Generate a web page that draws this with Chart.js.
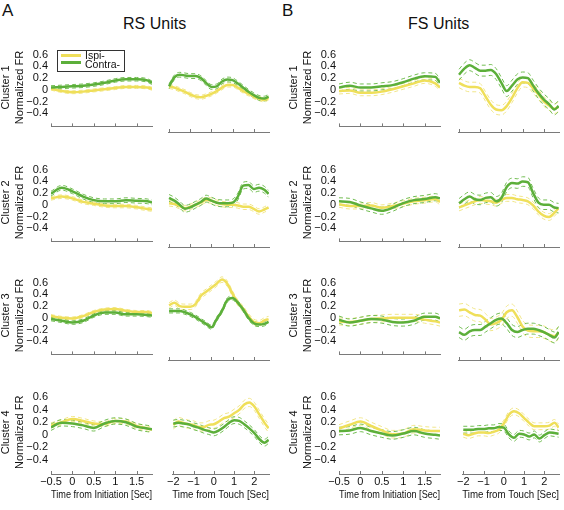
<!DOCTYPE html>
<html>
<head>
<meta charset="utf-8">
<script src="https://cdn.jsdelivr.net/npm/chart.js@4.4.1/dist/chart.umd.min.js"></script>
<style>
  body { margin: 0; background: #fff; }
  #fig { position: relative; width: 564px; height: 510px; overflow: hidden;
         font-family: "Liberation Sans", Arial, sans-serif; color: #111; }
  #fig canvas { position: absolute; }
  .lbl { position: absolute; white-space: nowrap; }
</style>
</head>
<body>
<div id="fig">
  <div class="lbl" style="left:2px;top:1px;font-size:17px">A</div>
  <div class="lbl" style="left:123px;top:15px;font-size:16px">RS Units</div>
  <div class="lbl" style="left:282px;top:1px;font-size:17px">B</div>
  <div class="lbl" style="left:408px;top:15px;font-size:16px">FS Units</div>
</div>
<script>
// time axes
const initX = [-0.5, -0.25, 0, 0.25, 0.5, 0.75, 1, 1.25, 1.5, 1.75, 1.86];
const touchX = [-2, -1.75, -1.5, -1.25, -1, -0.75, -0.5, -0.25, 0, 0.25, 0.5, 0.75, 1, 1.25, 1.5, 1.75, 2, 2.25, 2.5, 2.7];
const initTicks = [-0.5, 0, 0.5, 1, 1.5];
const touchTicks = [-2, -1, 0, 1, 2];
const yTicks = [-0.4, -0.2, 0, 0.2, 0.4, 0.6];

// RS units, mean normalized FR
const rs1InitIpsi = [0.02, -0.02, -0.04, -0.03, -0.01, 0.01, 0.03, 0.05, 0.05, 0.04, 0.02];
const rs1InitContra = [0.04, 0.05, 0.06, 0.07, 0.09, 0.12, 0.16, 0.18, 0.18, 0.16, 0.12];
const rs1TouchIpsi = [0.05, 0.03, 0.0, -0.03, -0.07, -0.1, -0.11, -0.09, -0.06, -0.02, 0.03, 0.07, 0.07, 0.03, -0.02, -0.06, -0.1, -0.13, -0.15, -0.12];
const rs1TouchContra = [0.05, 0.18, 0.22, 0.21, 0.2, 0.2, 0.17, 0.1, 0.04, 0.05, 0.12, 0.15, 0.14, 0.09, 0.03, -0.03, -0.08, -0.12, -0.13, -0.1];

const rs2InitIpsi = [0.11, 0.14, 0.11, 0.05, 0.02, -0.01, -0.02, -0.02, -0.04, -0.07, -0.08];
const rs2InitContra = [0.19, 0.29, 0.23, 0.14, 0.08, 0.06, 0.06, 0.08, 0.07, 0.06, 0.04];
const rs2TouchIpsi = [0.02, 0.01, -0.02, -0.05, -0.03, 0.0, 0.03, 0.07, 0.06, 0.03, 0.01, 0.0, 0.0, -0.01, -0.03, -0.03, -0.06, -0.1, -0.07, -0.04];
const rs2TouchContra = [0.1, 0.06, 0.0, -0.06, -0.04, 0.0, 0.04, 0.09, 0.06, 0.03, 0.02, 0.02, 0.03, 0.12, 0.28, 0.29, 0.23, 0.25, 0.22, 0.16];

const rs3InitIpsi = [0.03, 0.0, -0.01, 0.03, 0.1, 0.14, 0.15, 0.12, 0.1, 0.1, 0.08];
const rs3InitContra = [-0.02, -0.05, -0.08, -0.05, 0.04, 0.09, 0.09, 0.06, 0.06, 0.05, 0.04];
const rs3TouchIpsi = [0.18, 0.22, 0.17, 0.16, 0.16, 0.2, 0.32, 0.38, 0.44, 0.5, 0.56, 0.5, 0.35, 0.22, 0.13, 0.02, -0.06, -0.08, -0.04, -0.02];
const rs3TouchContra = [0.1, 0.1, 0.1, 0.08, 0.05, 0.01, -0.04, -0.09, -0.14, -0.02, 0.1, 0.26, 0.29, 0.22, 0.12, 0.0, -0.08, -0.1, -0.09, -0.06];

const rs4InitIpsi = [0.15, 0.2, 0.25, 0.22, 0.18, 0.17, 0.22, 0.21, 0.14, 0.1, 0.08];
const rs4InitContra = [0.12, 0.19, 0.18, 0.15, 0.11, 0.18, 0.22, 0.2, 0.13, 0.1, 0.09];
const rs4TouchIpsi = [0.1, 0.15, 0.13, 0.11, 0.1, 0.07, 0.07, 0.1, 0.11, 0.15, 0.2, 0.22, 0.27, 0.32, 0.4, 0.43, 0.37, 0.25, 0.13, 0.05];
const rs4TouchContra = [0.12, 0.13, 0.12, 0.11, 0.08, 0.06, 0.03, 0.01, -0.01, 0.02, 0.07, 0.13, 0.17, 0.16, 0.11, 0.05, -0.02, -0.11, -0.16, -0.12];

// FS units
const fs1InitIpsi = [-0.02, -0.01, -0.05, -0.05, -0.03, 0.01, 0.06, 0.11, 0.16, 0.11, 0.04];
const fs1InitContra = [0.04, 0.07, 0.04, 0.04, 0.06, 0.08, 0.13, 0.19, 0.23, 0.22, 0.12];
const fs1TouchIpsi = [0.1, 0.06, 0.04, 0.04, 0.02, -0.1, -0.22, -0.29, -0.3, -0.24, -0.12, 0.02, 0.11, 0.1, 0.02, -0.07, -0.17, -0.23, -0.28, -0.25];
const fs1TouchContra = [0.22, 0.31, 0.36, 0.32, 0.28, 0.28, 0.29, 0.23, 0.1, -0.02, 0.06, 0.15, 0.18, 0.17, 0.06, -0.05, -0.14, -0.21, -0.29, -0.24];

const fs2InitIpsi = [0.01, -0.02, -0.02, -0.01, -0.05, -0.02, 0.02, 0.06, 0.08, 0.1, 0.05];
const fs2InitContra = [0.06, 0.05, -0.01, -0.06, -0.1, -0.05, 0.03, 0.08, 0.1, 0.13, 0.11];
const fs2TouchIpsi = [-0.04, -0.01, 0.02, 0.05, 0.07, 0.06, 0.05, 0.03, 0.07, 0.1, 0.1, 0.08, 0.07, 0.05, -0.01, -0.1, -0.16, -0.18, -0.12, -0.05];
const fs2TouchContra = [0.02, 0.08, 0.12, 0.08, 0.07, 0.1, 0.11, 0.05, 0.1, 0.26, 0.32, 0.31, 0.34, 0.33, 0.17, 0.03, 0.0, 0.0, -0.04, -0.05];

const fs3InitIpsi = [-0.06, -0.07, -0.05, -0.02, -0.01, 0.0, 0.0, 0.0, -0.03, -0.06, -0.08];
const fs3InitContra = [-0.03, -0.08, -0.05, -0.02, -0.03, -0.07, -0.08, -0.05, 0.02, 0.02, -0.01];
const fs3TouchIpsi = [0.11, 0.12, 0.08, 0.04, 0.03, -0.03, -0.1, -0.08, -0.03, 0.08, 0.11, 0.01, -0.13, -0.19, -0.2, -0.2, -0.21, -0.25, -0.27, -0.22];
const fs3TouchContra = [-0.21, -0.25, -0.2, -0.18, -0.18, -0.13, -0.08, -0.03, -0.01, -0.08, -0.18, -0.21, -0.18, -0.16, -0.16, -0.18, -0.21, -0.25, -0.29, -0.21];

const fs4InitIpsi = [0.1, 0.16, 0.21, 0.14, 0.07, 0.01, 0.02, 0.09, 0.07, 0.06, 0.06];
const fs4InitContra = [0.06, 0.07, 0.11, 0.06, 0.02, -0.01, 0.02, 0.06, 0.02, 0.0, -0.01];
const fs4TouchIpsi = [-0.03, -0.05, -0.03, -0.01, -0.01, -0.02, 0.0, 0.03, 0.12, 0.25, 0.3, 0.27, 0.2, 0.13, 0.08, 0.08, 0.08, 0.09, 0.13, 0.06];
const fs4TouchContra = [0.03, 0.03, 0.03, 0.04, 0.04, 0.05, 0.05, 0.07, 0.06, -0.04, -0.09, -0.03, -0.04, -0.07, -0.04, -0.1, -0.05, -0.01, -0.02, -0.03];

// error band half-widths [ipsi, contra] per cluster
const rsInitErr = [[0.025, 0.03], [0.03, 0.04], [0.025, 0.03], [0.04, 0.05]];
const rsTouchErr = [[0.03, 0.035], [0.04, 0.05], [0.04, 0.03], [0.06, 0.05]];
const fsInitErr = [[0.05, 0.06], [0.05, 0.06], [0.06, 0.06], [0.06, 0.06]];
const fsTouchErr = [[0.07, 0.08], [0.05, 0.07], [0.09, 0.08], [0.05, 0.05]];

const YEL = '#efdf5a', YEL_D = '#f1e68a';
const GRN = '#5caf3a', GRN_D = '#72bd52';
const FONT = '"Liberation Sans", Arial, sans-serif';

const fig = document.getElementById('fig');
const rowTop = [42, 157, 270, 384];
const plotH = 90, plotW = 101;

const groups = [
  { cols: [51, 168], err: [rsInitErr, rsTouchErr],
    means: [[rs1InitIpsi, rs1InitContra, rs1TouchIpsi, rs1TouchContra],
            [rs2InitIpsi, rs2InitContra, rs2TouchIpsi, rs2TouchContra],
            [rs3InitIpsi, rs3InitContra, rs3TouchIpsi, rs3TouchContra],
            [rs4InitIpsi, rs4InitContra, rs4TouchIpsi, rs4TouchContra]] },
  { cols: [339, 458], err: [fsInitErr, fsTouchErr],
    means: [[fs1InitIpsi, fs1InitContra, fs1TouchIpsi, fs1TouchContra],
            [fs2InitIpsi, fs2InitContra, fs2TouchIpsi, fs2TouchContra],
            [fs3InitIpsi, fs3InitContra, fs3TouchIpsi, fs3TouchContra],
            [fs4InitIpsi, fs4InitContra, fs4TouchIpsi, fs4TouchContra]] }
];

const fmt = v => (v < 0 ? '\u2212' : '') + Math.abs(v);

// little tick marks pointing into the plot, like matlab
const innerTicks = {
  id: 'innerTicks',
  afterDraw(c) {
    const s = c.scales.x, a = c.chartArea, ctx = c.ctx;
    ctx.save();
    ctx.strokeStyle = '#7a7a7a';
    ctx.lineWidth = 1;
    s.ticks.forEach(t => {
      const px = Math.round(s.getPixelForValue(t.value)) + 0.5;
      ctx.beginPath();
      ctx.moveTo(px, a.bottom);
      ctx.lineTo(px, a.bottom - 3);
      ctx.stroke();
    });
    ctx.restore();
  }
};

function buildSets(xs, ipsi, contra, err) {
  const pts = (arr, d) => arr.map((v, i) => ({ x: xs[i], y: v + d }));
  const mean = (arr, col) => ({ data: pts(arr, 0), borderColor: col, borderWidth: 2.5 });
  const dash = (arr, d, col) => ({ data: pts(arr, d), borderColor: col, borderWidth: 1, borderDash: [4, 3] });
  // first dataset is painted last
  return [
    mean(contra, GRN), mean(ipsi, YEL),
    dash(contra, err[1], GRN_D), dash(contra, -err[1], GRN_D),
    dash(ipsi, err[0], YEL_D), dash(ipsi, -err[0], YEL_D)
  ];
}

function makePanel(left, top, cluster, isTouch, lastRow, ipsi, contra, err) {
  const yW = isTouch ? 2 : 52;
  const xH = lastRow ? 27 : 4;
  const w = yW + plotW + 4, h = 3 + plotH + xH;
  const cv = document.createElement('canvas');
  cv.width = w; cv.height = h;
  cv.style.left = (left - yW) + 'px';
  cv.style.top = (top - 3) + 'px';
  cv.style.width = w + 'px'; cv.style.height = h + 'px';
  fig.appendChild(cv);
  const xs = isTouch ? touchX : initX;
  const ticks = isTouch ? touchTicks : initTicks;
  new Chart(cv, {
    type: 'line',
    data: { datasets: buildSets(xs, ipsi, contra, err) },
    options: {
      responsive: false, animation: false,
      layout: { padding: { top: 3, right: 4, left: 0, bottom: 0 } },
      plugins: { legend: { display: false }, tooltip: { enabled: false } },
      elements: { point: { radius: 0 }, line: { cubicInterpolationMode: 'monotone' } },
      scales: {
        x: {
          type: 'linear',
          min: isTouch ? -2.05 : -0.5, max: isTouch ? 2.72 : 1.86,
          afterBuildTicks: s => { s.ticks = ticks.map(v => ({ value: v })); },
          afterFit: s => { s.height = xH; },
          grid: { display: false, drawTicks: false },
          border: { display: true, color: '#7a7a7a', width: 1 },
          ticks: { display: lastRow, autoSkip: false, padding: 1, color: '#111', maxRotation: 0,
                   font: { size: 11, family: FONT }, callback: v => fmt(v) },
          title: { display: lastRow, text: isTouch ? 'Time from Touch [Sec]' : 'Time from Initiation [Sec]',
                   padding: { top: 0, bottom: 0 }, color: '#111', font: { size: 10.5, family: FONT } }
        },
        y: {
          min: -0.62, max: 0.7,
          afterBuildTicks: s => { s.ticks = yTicks.map(v => ({ value: v })); },
          afterFit: s => { s.width = yW; },
          grid: { display: false, drawTicks: false },
          border: { display: false },
          ticks: { display: !isTouch, autoSkip: false, padding: 3, color: '#111', font: { size: 11, family: FONT },
                   callback: v => fmt(v) },
          title: { display: !isTouch, text: ['Cluster ' + cluster, 'Normalized FR'], padding: 0,
                   color: '#111', font: { size: 11, family: FONT, lineHeight: '14px' } }
        }
      }
    },
    plugins: [innerTicks]
  });
}

groups.forEach(g => {
  g.means.forEach((m, r) => {
    makePanel(g.cols[0], rowTop[r], r + 1, false, r === 3, m[0], m[1], g.err[0][r]);
    makePanel(g.cols[1], rowTop[r], r + 1, true, r === 3, m[2], m[3], g.err[1][r]);
  });
});

// legend box in the first RS panel
const leg = document.createElement('div');
leg.style.cssText = 'position:absolute;left:57px;top:50px;width:66px;height:20px;border:1px solid #333;background:#fff;font-size:10.5px';
leg.innerHTML =
  '<div style="position:absolute;left:3px;top:3px;width:20px;height:2.5px;background:' + YEL + '"></div>' +
  '<div class="lbl" style="left:27px;top:-2px">Ispi-</div>' +
  '<div style="position:absolute;left:3px;top:10px;width:20px;height:2.5px;background:' + GRN + '"></div>' +
  '<div class="lbl" style="left:27px;top:7px">Contra-</div>';
fig.appendChild(leg);
</script>
</body>
</html>
